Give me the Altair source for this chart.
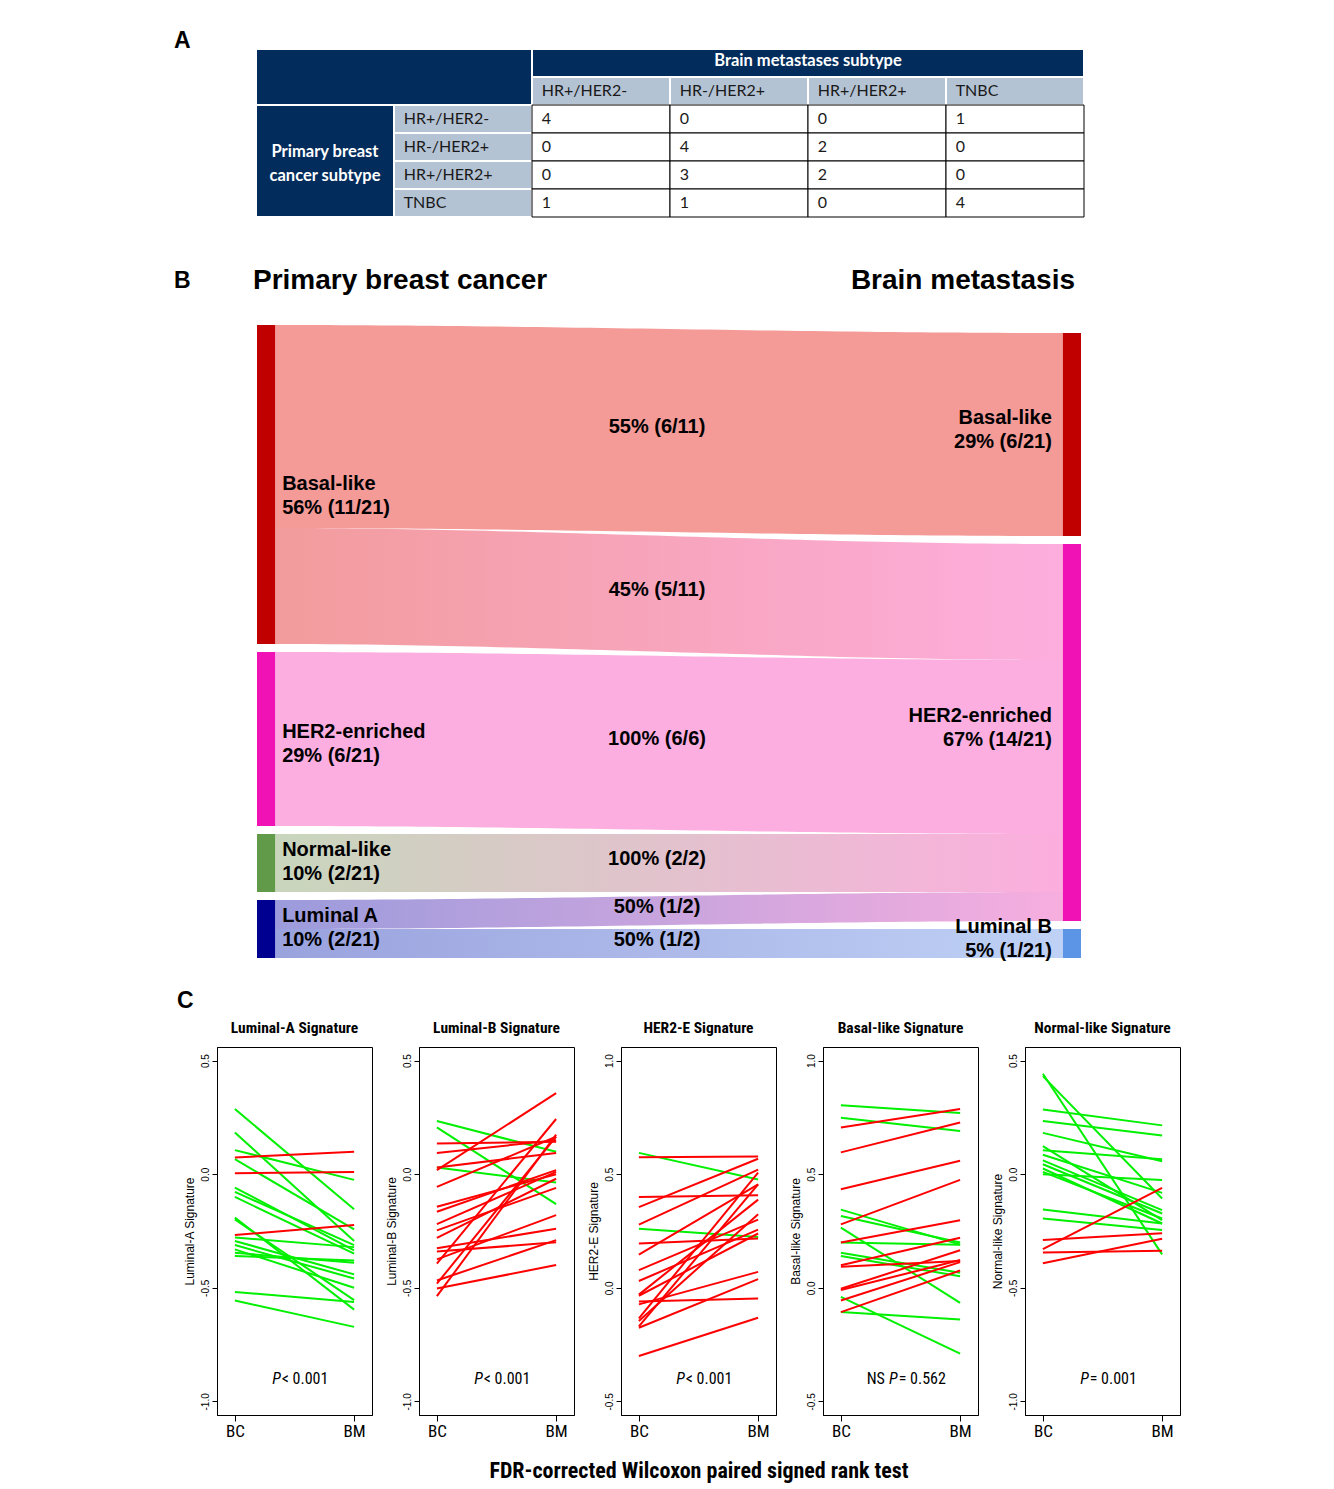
import altair as alt
import numpy as np
import pandas as pd

NARROW = "Roboto Condensed, Liberation Sans Narrow, Arial Narrow, sans-serif"
ARIAL = "Liberation Sans, Arial, sans-serif"
CALIBRI = "Lato, Carlito, Calibri, sans-serif"

# ---------------- A: cross table ----------------
bm_subtypes = ["HR+/HER2-", "HR-/HER2+", "HR+/HER2+", "TNBC"]
bc_subtypes = ["HR+/HER2-", "HR-/HER2+", "HR+/HER2+", "TNBC"]
counts = [[4, 0, 0, 1],
          [0, 4, 2, 0],
          [0, 3, 2, 0],
          [1, 1, 0, 4]]
table_header = "Brain metastases subtype"
table_row_header = "Primary breast\ncancer subtype"

# ---------------- B: sankey ----------------
left_nodes = ["Basal-like", "HER2-enriched", "Normal-like", "Luminal A"]
left_pct = ["56% (11/21)", "29% (6/21)", "10% (2/21)", "10% (2/21)"]
right_nodes = ["Basal-like", "HER2-enriched", "Luminal B"]
right_pct = ["29% (6/21)", "67% (14/21)", "5% (1/21)"]
flow_src = ["Basal-like", "Basal-like", "HER2-enriched", "Normal-like", "Luminal A", "Luminal A"]
flow_tgt = ["Basal-like", "HER2-enriched", "HER2-enriched", "HER2-enriched", "HER2-enriched", "Luminal B"]
flow_size = [7, 4, 6, 2, 1, 1]   # drawn band widths (patients)
flow_text = ["55% (6/11)", "45% (5/11)", "100% (6/6)", "100% (2/2)", "50% (1/2)", "50% (1/2)"]
node_names = ["Basal-like", "HER2-enriched", "Normal-like", "Luminal A", "Luminal B"]
node_colors = ["#C00000", "#F012B4", "#619A48", "#000090", "#5D95E6"]
flow_color_left = ["#F49A97", "#F29C9C", "#FCAEE0", "#C8D6BC", "#9B9BDC", "#9AA2DE"]
flow_color_right = ["#F49A97", "#FDAEDE", "#FCAEE0", "#FCAEDE", "#F7AEDF", "#BFD1F5"]
title_left = "Primary breast cancer"
title_right = "Brain metastasis"

# ---------------- C: signature slope plots ----------------
sig_titles = ["Luminal-A Signature", "Luminal-B Signature", "HER2-E Signature",
              "Basal-like Signature", "Normal-like Signature"]
sig_ranges = [(-1.0, 0.5), (-1.0, 0.5), (-0.5, 1.0), (-0.5, 1.0), (-1.0, 0.5)]
p_prefix = ["", "", "", "NS", ""]
p_rest = ["< 0.001", "< 0.001", "< 0.001", "= 0.562", "= 0.001"]
caption = "FDR-corrected Wilcoxon paired signed rank test"

luma_bc = [0.287, 0.184, 0.106, 0.066, -0.059, -0.078, -0.100, -0.191, -0.199, -0.279,
           -0.294, -0.312, -0.331, -0.346, -0.360, -0.518, -0.556, 0.074, 0.004, -0.268]
luma_bm = [-0.154, -0.294, -0.025, -0.243, -0.335, -0.312, -0.350, -0.596, -0.554, -0.321,
           -0.441, -0.459, -0.500, -0.390, -0.380, -0.563, -0.672, 0.099, 0.010, -0.224]

lumb_bc = [0.234, 0.206, 0.030, 0.135, 0.093, 0.030, 0.018, -0.056, -0.143, -0.165,
           -0.220, -0.247, -0.280, -0.326, -0.340, -0.375, -0.394, -0.468, -0.482, -0.503, -0.537]
lumb_bm = [0.099, -0.132, -0.037, 0.143, 0.150, 0.093, 0.357, 0.165, 0.000, 0.018,
           0.010, -0.060, -0.020, -0.240, -0.300, -0.180, 0.243, -0.290, 0.165, -0.400, 0.174]

her2_bc = [0.594, 0.260, 0.575, 0.400, 0.355, 0.278, 0.195, 0.146, 0.078, 0.030,
           -0.030, -0.035, -0.060, -0.073, -0.135, -0.146, -0.170, -0.176, -0.300]
her2_bm = [0.477, 0.224, 0.578, 0.407, 0.568, 0.520, 0.217, 0.455, 0.300, 0.256,
           0.388, 0.239, -0.047, 0.070, 0.507, 0.324, 0.455, 0.038, -0.132]

basal_bc = [0.804, 0.749, 0.344, 0.316, 0.265, 0.199, 0.154, 0.140, -0.040, -0.107,
            0.706, 0.596, 0.434, 0.279, 0.199, 0.099, 0.093, -0.004, -0.010, -0.056, -0.107]
basal_bm = [0.769, 0.690, 0.190, 0.199, -0.066, 0.190, 0.066, 0.051, -0.290, -0.140,
            0.787, 0.728, 0.559, 0.475, 0.297, 0.220, 0.118, 0.165, 0.122, 0.113, 0.076]

norm_bc = [0.442, 0.432, 0.285, 0.234, 0.182, 0.124, 0.105, 0.086, 0.061, 0.044,
           0.025, 0.010, 0.000, -0.155, -0.195, -0.330, -0.290, -0.345, -0.392]
norm_bm = [-0.353, -0.107, 0.215, 0.170, 0.057, -0.202, 0.066, -0.082, -0.158, -0.173,
           -0.217, -0.195, -0.026, -0.217, -0.246, -0.060, -0.260, -0.337, -0.284]

panel_bc = [luma_bc, lumb_bc, her2_bc, basal_bc, norm_bc]
panel_bm = [luma_bm, lumb_bm, her2_bm, basal_bm, norm_bm]

RED = "#FF0000"
GREEN = "#00F000"
NAVY = "#022C5C"
LIGHT = "#B4C3D3"

NO_VIEW = alt.ViewBackground(stroke="transparent")

# =============== A ===============
navy_rows, light_rows, data_rows = [], [], []
navy_rows.append(dict(c0=0, c1=2, r0=0, r1=2, text=""))
navy_rows.append(dict(c0=2, c1=6, r0=0, r1=1, text=table_header))
navy_rows.append(dict(c0=0, c1=1, r0=2, r1=6, text=table_row_header))
for j, lab in enumerate(bm_subtypes):
    light_rows.append(dict(c0=2 + j, c1=3 + j, r0=1, r1=2, text=lab))
for i, lab in enumerate(bc_subtypes):
    light_rows.append(dict(c0=1, c1=2, r0=2 + i, r1=3 + i, text=lab))
for i in range(4):
    for j in range(4):
        data_rows.append(dict(c0=2 + j, c1=3 + j, r0=2 + i, r1=3 + i, text=str(counts[i][j])))

navy_df = pd.DataFrame(navy_rows)
light_df = pd.DataFrame(light_rows)
data_df = pd.DataFrame(data_rows)
for d in (navy_df, light_df, data_df):
    d["cx"] = (d.c0 + d.c1) / 2
    d["tx"] = d.c0 + 0.07
    d["ty"] = (d.r0 + d.r1) / 2
dark_text_df = pd.concat([light_df, data_df], ignore_index=True)
head_text_df = navy_df[navy_df.text == table_header]
rowhead_text_df = navy_df[navy_df.text == table_row_header]

tx_scale = alt.Scale(domain=[0, 6], range=[39, 867], nice=False, zero=False)
ty_scale = alt.Scale(domain=[0, 6], range=[0, 168], nice=False, zero=False)


def cell_rects(df, fill, stroke, sw):
    return alt.Chart(df).mark_rect(fill=fill, stroke=stroke, strokeWidth=sw).encode(
        x=alt.X("c0:Q", scale=tx_scale, axis=None), x2="c1:Q",
        y=alt.Y("r0:Q", scale=ty_scale, axis=None), y2="r1:Q")


def white_text(df, dy):
    return alt.Chart(df).mark_text(font=CALIBRI, fontSize=16.5, fontWeight="bold", color="white",
                                   lineBreak="\n", lineHeight=24, baseline="middle", dy=dy).encode(
        x=alt.X("cx:Q", scale=tx_scale, axis=None), y=alt.Y("ty:Q", scale=ty_scale, axis=None),
        text="text:N")


table_chart = alt.layer(
    cell_rects(navy_df, NAVY, "white", 2),
    cell_rects(light_df, LIGHT, "white", 2),
    cell_rects(data_df, "white", "black", 1),
    white_text(head_text_df, -2),
    white_text(rowhead_text_df, -9),
    alt.Chart(dark_text_df).mark_text(font=CALIBRI, fontSize=16, color="#1a1a1a",
                                      align="left", baseline="middle").encode(
        x=alt.X("tx:Q", scale=tx_scale, axis=None), y=alt.Y("ty:Q", scale=ty_scale, axis=None),
        text="text:N"),
).properties(width=867, height=168, view=NO_VIEW,
             title=alt.TitleParams("A", anchor="start", frame="group", dx=-43, offset=0, dy=5,
                                   fontSize=23, fontWeight="bold", font=ARIAL, color="black"))

# =============== B ===============
GAP = 8 / 29
NODE_W = 0.022
left_size = [sum(v for s, v in zip(flow_src, flow_size) if s == n) for n in left_nodes]
right_size = [sum(v for t, v in zip(flow_tgt, flow_size) if t == n) for n in right_nodes]
total_left = sum(left_size) + GAP * (len(left_nodes) - 1)
total_right = sum(right_size) + GAP * (len(right_nodes) - 1)


def stack_nodes(names, sizes, top):
    pos, y = {}, top
    for n, s in zip(names, sizes):
        pos[n] = (y, y + s)
        y += s + GAP
    return pos


lpos = stack_nodes(left_nodes, left_size, 0.0)
rpos = stack_nodes(right_nodes, right_size, total_left - total_right)

sx = alt.Scale(domain=[0, 1], range=[40, 864], nice=False, zero=False)
sy = alt.Scale(domain=[0, total_left], range=[18, 651], nice=False, zero=False)

node_rows = []
for n in left_nodes:
    node_rows.append(dict(name=n, x0=0.0, x1=NODE_W, y0=lpos[n][0], y1=lpos[n][1]))
for n in right_nodes:
    node_rows.append(dict(name=n, x0=1 - NODE_W, x1=1.0, y0=rpos[n][0], y1=rpos[n][1]))
node_df = pd.DataFrame(node_rows)

left_lab_df = pd.DataFrame(dict(
    x=[NODE_W] * len(left_nodes),
    y=[lpos[n][0] + 0.55 * (lpos[n][1] - lpos[n][0]) for n in left_nodes],
    text=[n + "\n" + p for n, p in zip(left_nodes, left_pct)]))
right_lab_df = pd.DataFrame(dict(
    x=[1 - NODE_W] * len(right_nodes),
    y=[(rpos[n][0] + rpos[n][1]) / 2 for n in right_nodes],
    text=[n + "\n" + p for n, p in zip(right_nodes, right_pct)]))

lcur = {n: lpos[n][0] for n in left_nodes}
rcur = {n: rpos[n][0] for n in right_nodes}
flow_layers, flow_lab_rows = [], []
t = np.linspace(0, 1, 61)
smooth = t * t * (3 - 2 * t)
for k, (s, tg, v) in enumerate(zip(flow_src, flow_tgt, flow_size)):
    a0 = lcur[s]; a1 = a0 + v; lcur[s] = a1
    b0 = rcur[tg]; b1 = b0 + v; rcur[tg] = b1
    fdf = pd.DataFrame(dict(x=NODE_W + t * (1 - 2 * NODE_W),
                            y=a0 + (b0 - a0) * smooth,
                            y2=a1 + (b1 - a1) * smooth))
    grad = {"gradient": "linear", "x1": 0, "x2": 1, "y1": 0, "y2": 0,
            "stops": [{"offset": 0, "color": flow_color_left[k]},
                      {"offset": 1, "color": flow_color_right[k]}]}
    flow_layers.append(alt.Chart(fdf).mark_area(color=grad).encode(
        x=alt.X("x:Q", scale=sx, axis=None), y=alt.Y("y:Q", scale=sy, axis=None), y2="y2:Q"))
    flow_lab_rows.append(dict(x=0.5, y=(a0 + a1 + b0 + b1) / 4, text=flow_text[k]))
flow_lab_df = pd.DataFrame(flow_lab_rows)

nodes = alt.Chart(node_df).mark_rect().encode(
    x=alt.X("x0:Q", scale=sx, axis=None), x2="x1:Q",
    y=alt.Y("y0:Q", scale=sy, axis=None), y2="y1:Q",
    color=alt.Color("name:N", scale=alt.Scale(domain=node_names, range=node_colors), legend=None))

lab_style = dict(font=ARIAL, fontSize=20, fontWeight="bold", color="black", lineBreak="\n",
                 lineHeight=24, baseline="middle")
left_labels = alt.Chart(left_lab_df).mark_text(align="left", dx=7, dy=-16, **lab_style).encode(
    x=alt.X("x:Q", scale=sx, axis=None), y=alt.Y("y:Q", scale=sy, axis=None), text="text:N")
right_labels = alt.Chart(right_lab_df).mark_text(align="right", dx=-11, dy=-17, **lab_style).encode(
    x=alt.X("x:Q", scale=sx, axis=None), y=alt.Y("y:Q", scale=sy, axis=None), text="text:N")
flow_labels = alt.Chart(flow_lab_df).mark_text(align="center", dx=-12, dy=-4, **lab_style).encode(
    x=alt.X("x:Q", scale=sx, axis=None), y=alt.Y("y:Q", scale=sy, axis=None), text="text:N")

head_df = pd.DataFrame(dict(x=[0.0, 1.0], y=[0.0, 0.0], text=[title_left, title_right],
                            side=["l", "r"]))
head_left = alt.Chart(head_df[head_df.side == "l"]).mark_text(
    align="left", baseline="middle", dx=-4, dy=-44, font=ARIAL, fontSize=28, fontWeight="bold",
    color="black").encode(x=alt.X("x:Q", scale=sx, axis=None), y=alt.Y("y:Q", scale=sy, axis=None),
                          text="text:N")
head_right = alt.Chart(head_df[head_df.side == "r"]).mark_text(
    align="right", baseline="middle", dx=-6, dy=-44, font=ARIAL, fontSize=28, fontWeight="bold",
    color="black").encode(x=alt.X("x:Q", scale=sx, axis=None), y=alt.Y("y:Q", scale=sy, axis=None),
                          text="text:N")
letter_b = alt.Chart(pd.DataFrame(dict(x=[0.0], y=[0.0], text=["B"]))).mark_text(
    align="left", baseline="middle", dx=-83, dy=-44, font=ARIAL, fontSize=23, fontWeight="bold",
    color="black").encode(x=alt.X("x:Q", scale=sx, axis=None), y=alt.Y("y:Q", scale=sy, axis=None),
                          text="text:N")

sankey_chart = alt.layer(*flow_layers, nodes, left_labels, right_labels, flow_labels,
                         head_left, head_right, letter_b).properties(
    width=867, height=650, view=NO_VIEW)

# =============== C ===============
P_SIZE = 16
W_P = 0.55 * P_SIZE
W_REST = 2.83 * P_SIZE
W_PRE = 1.12 * P_SIZE
W_SP = 0.25 * P_SIZE
P_SHIFT = 4.5


def sig_panel(i):
    lo, hi = sig_ranges[i]
    ticks = [lo + 0.5 * k for k in range(4)]
    rows = []
    for k, (a, b) in enumerate(zip(panel_bc[i], panel_bm[i])):
        d = "up" if b > a else "down"
        rows.append(dict(pid=k, x=1, v=a, d=d))
        rows.append(dict(pid=k, x=2, v=b, d=d))
    df = pd.DataFrame(rows)
    xscale = alt.Scale(domain=[0.85, 2.15], nice=False, zero=False)
    yscale = alt.Scale(domain=[lo - 0.06, hi + 0.06], nice=False, zero=False)
    xkw = dict(values=[1, 2], labelExpr="datum.value == 1 ? 'BC' : 'BM'", tickSize=6,
               tickColor="black", domainColor="black", labelColor="black", labelFont=NARROW,
               labelFontSize=17, labelPadding=2, grid=False, labelFlush=False)
    if i == 2:
        xaxis = alt.Axis(title=caption, titleFont=NARROW, titleFontSize=22, titleFontWeight="bold",
                         titleColor="black", titlePadding=21, titleLimit=1000, **xkw)
    else:
        xaxis = alt.Axis(title=None, **xkw)
    yaxis = alt.Axis(values=ticks, title=sig_titles[i], titleFont=ARIAL, titleFontSize=12,
                     titleFontWeight="normal", titleColor="black", titlePadding=4,
                     labelAngle=270, labelAlign="center", labelBaseline="bottom", labelFont=ARIAL,
                     labelFontSize=10, labelColor="black", labelPadding=2, tickSize=5,
                     tickColor="black", domainColor="black", grid=False, labelOverlap=False,
                     labelFlush=False,
                     labelExpr="replace(format(datum.value, '.1f'), '\u2212', '-')")
    X = alt.X("x:Q", scale=xscale, axis=xaxis)
    Y = alt.Y("v:Q", scale=yscale, axis=yaxis)
    green_lines = alt.Chart(df[df.d == "down"]).mark_line(strokeWidth=2, color=GREEN).encode(
        x=X, y=Y, detail="pid:N")
    red_lines = alt.Chart(df[df.d == "up"]).mark_line(strokeWidth=2, color=RED).encode(
        x=X, y=Y, detail="pid:N")
    pre, rest = p_prefix[i], p_rest[i]
    w_pre = (W_PRE + W_SP) if pre else 0.0
    anchor = -(w_pre + W_P + W_REST) / 2 + w_pre + W_P + P_SHIFT
    pdf = pd.DataFrame(dict(x=[1.5], v=[lo + 0.1], pre=[pre], P=["P"], rest=[rest]))
    tstyle = dict(font=NARROW, fontSize=P_SIZE, color="black", baseline="middle")
    layers = [green_lines, red_lines]
    if pre:
        layers.append(alt.Chart(pdf).mark_text(align="right", dx=anchor - W_P - W_SP,
                                               **tstyle).encode(x=X, y=Y, text="pre:N"))
    layers.append(alt.Chart(pdf).mark_text(align="right", dx=anchor, fontStyle="italic",
                                           **tstyle).encode(x=X, y=Y, text="P:N"))
    layers.append(alt.Chart(pdf).mark_text(align="left", dx=anchor + 1, **tstyle).encode(
        x=X, y=Y, text="rest:N"))
    return alt.layer(*layers).properties(
        width=155, height=368,
        view=alt.ViewBackground(stroke="black", strokeWidth=1),
        title=alt.TitleParams(sig_titles[i], font=NARROW, fontSize=15.5, fontWeight="bold",
                              color="black", offset=11, anchor="middle"))


panels = alt.hconcat(*[sig_panel(i) for i in range(5)], spacing=47, bounds="flush",
                     title=alt.TitleParams("C", anchor="start", frame="group", dx=-40, offset=7,
                                           fontSize=23, fontWeight="bold", font=ARIAL,
                                           color="black"))

chart = alt.vconcat(table_chart, sankey_chart, panels, spacing=90, bounds="flush").properties(
    padding={"left": 165, "top": 21, "right": 10, "bottom": 10}
).configure(background="white").configure_view(stroke="transparent")

chart.save("out.html", embed_options={"renderer": "svg", "actions": False})
